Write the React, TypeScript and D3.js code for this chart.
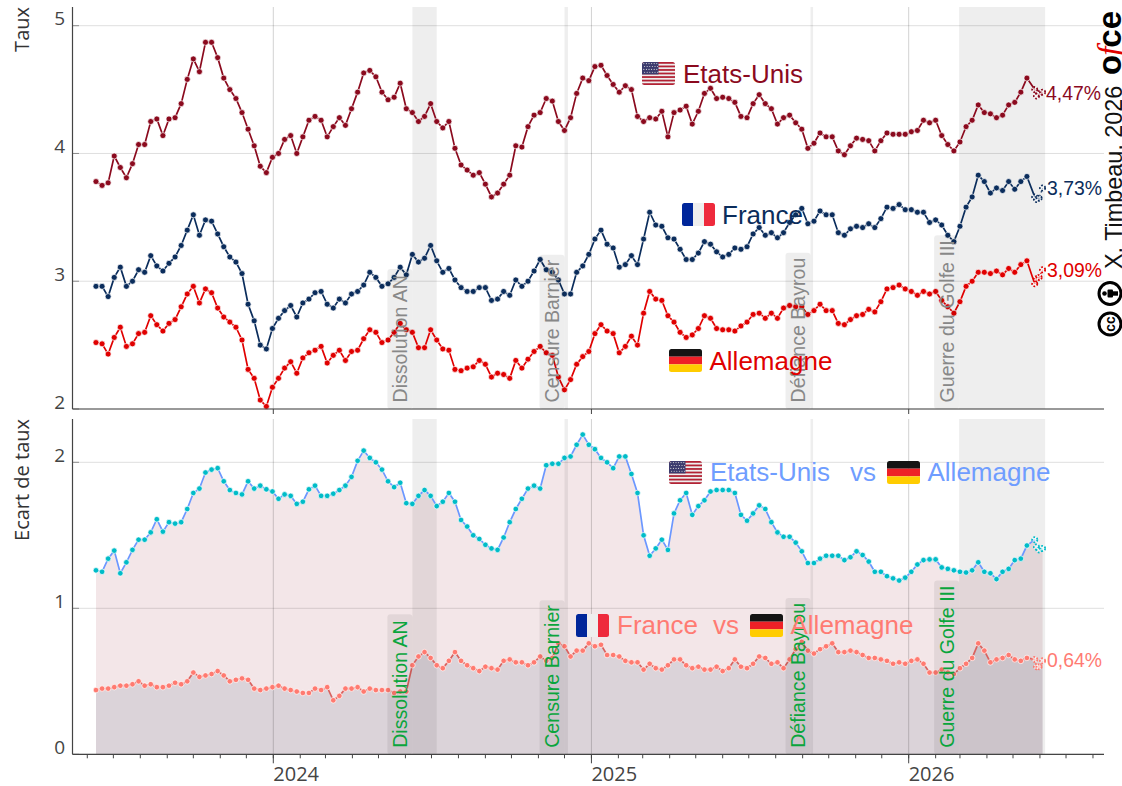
import * as d3 from 'd3';

// weekly yields, last 4 values are the provisional daily points (dashed tail)
const usRates = [
  3.78, 3.75, 3.77, 3.98, 3.89, 3.81, 3.92, 4.07, 4.07, 4.25, 4.27, 4.14, 4.27, 4.28, 4.39, 4.58, 4.74, 4.64, 4.87, 4.87,
  4.75, 4.59, 4.5, 4.43, 4.32, 4.19, 4.06, 3.9, 3.85, 3.97, 4.0, 4.11, 4.14, 4.0, 4.13, 4.26, 4.29, 4.26, 4.13, 4.21,
  4.28, 4.22, 4.35, 4.48, 4.63, 4.65, 4.6, 4.48, 4.42, 4.44, 4.55, 4.35, 4.32, 4.25, 4.29, 4.39, 4.25, 4.2, 4.25, 4.04,
  3.91, 3.87, 3.83, 3.85, 3.76, 3.66, 3.69, 3.76, 3.83, 4.06, 4.05, 4.21, 4.3, 4.32, 4.43, 4.41, 4.25, 4.18, 4.28, 4.47,
  4.59, 4.57, 4.68, 4.69, 4.61, 4.54, 4.48, 4.53, 4.5, 4.29, 4.25, 4.28, 4.27, 4.33, 4.13, 4.32, 4.34, 4.37, 4.23, 4.33,
  4.47, 4.51, 4.43, 4.44, 4.43, 4.4, 4.29, 4.28, 4.39, 4.46, 4.39, 4.35, 4.23, 4.28, 4.3, 4.24, 4.19, 4.04, 4.08, 4.16,
  4.13, 4.13, 4.02, 3.99, 4.06, 4.12, 4.11, 4.1, 4.02, 4.1, 4.16, 4.15, 4.15, 4.15, 4.17, 4.18, 4.26, 4.24, 4.26, 4.14,
  4.07, 4.02, 4.09, 4.21, 4.26, 4.38, 4.32, 4.31, 4.28, 4.3, 4.38, 4.4, 4.48, 4.59, 4.5, 4.45, 4.47, 4.48,
];
const frRates = [
  2.96, 2.96, 2.88, 3.03, 3.11, 2.96, 3.0, 3.09, 3.07, 3.2, 3.12, 3.08, 3.14, 3.19, 3.28, 3.4, 3.52, 3.36, 3.48, 3.47,
  3.37, 3.27, 3.19, 3.15, 3.06, 2.82, 2.69, 2.5, 2.47, 2.63, 2.71, 2.77, 2.81, 2.72, 2.83, 2.86, 2.91, 2.92, 2.82, 2.79,
  2.86, 2.83, 2.9, 2.92, 2.97, 3.07, 3.03, 2.96, 2.98, 3.03, 3.11, 3.05, 3.21, 3.15, 3.18, 3.28, 3.16, 3.07, 3.1, 3.01,
  2.95, 2.92, 2.92, 2.95, 2.95, 2.85, 2.86, 2.92, 2.89, 3.01, 2.96, 3.0, 3.08, 3.17, 3.09, 3.07, 3.01, 2.9, 2.9, 3.07,
  3.12, 3.21, 3.33, 3.4, 3.29, 3.26, 3.11, 3.13, 3.2, 3.13, 3.33, 3.54, 3.44, 3.43, 3.34, 3.33, 3.25, 3.17, 3.17, 3.22,
  3.31, 3.29, 3.23, 3.19, 3.21, 3.26, 3.25, 3.27, 3.37, 3.42, 3.36, 3.38, 3.34, 3.38, 3.46, 3.52, 3.57, 3.45, 3.47, 3.55,
  3.52, 3.52, 3.38, 3.36, 3.41, 3.43, 3.42, 3.45, 3.42, 3.49, 3.58, 3.57, 3.6, 3.56, 3.56, 3.54, 3.54, 3.46, 3.48, 3.44,
  3.36, 3.31, 3.43, 3.58, 3.66, 3.83, 3.78, 3.69, 3.73, 3.71, 3.78, 3.72, 3.78, 3.82, 3.66, 3.64, 3.65, 3.73,
];
const deRates = [
  2.52, 2.51, 2.43, 2.56, 2.64, 2.49, 2.51, 2.59, 2.6, 2.73, 2.66, 2.61, 2.67, 2.7, 2.8, 2.9, 2.96, 2.83, 2.94, 2.91,
  2.79, 2.72, 2.68, 2.64, 2.54, 2.31, 2.24, 2.07, 2.02, 2.17, 2.24, 2.32, 2.37, 2.28, 2.4, 2.44, 2.46, 2.49, 2.36, 2.42,
  2.46, 2.38, 2.45, 2.46, 2.55, 2.62, 2.6, 2.52, 2.54, 2.6, 2.67, 2.62, 2.6, 2.48, 2.48, 2.62, 2.54, 2.47, 2.46, 2.31,
  2.3, 2.32, 2.33, 2.38, 2.35, 2.25, 2.28, 2.27, 2.24, 2.38, 2.32, 2.39, 2.45, 2.49, 2.44, 2.42, 2.25, 2.15, 2.23, 2.35,
  2.41, 2.45, 2.59, 2.66, 2.61, 2.59, 2.44, 2.49, 2.57, 2.5, 2.75, 2.92, 2.86, 2.85, 2.73, 2.68, 2.6, 2.56, 2.58, 2.63,
  2.73, 2.71, 2.63, 2.62, 2.62, 2.61, 2.65, 2.68, 2.74, 2.75, 2.71, 2.75, 2.71, 2.79, 2.81, 2.8, 2.8, 2.74, 2.77, 2.82,
  2.77, 2.77, 2.67, 2.66, 2.7, 2.73, 2.74, 2.78, 2.76, 2.84, 2.94, 2.95, 2.97, 2.94, 2.92, 2.89, 2.92, 2.9, 2.92, 2.85,
  2.8, 2.75, 2.84, 2.96, 3.0, 3.07, 3.07, 3.06, 3.08, 3.05, 3.1, 3.07, 3.13, 3.16, 2.98, 3.02, 3.03, 3.09,
];
const usSpread = [
  1.26, 1.25, 1.34, 1.395, 1.24, 1.315, 1.4, 1.47, 1.47, 1.52, 1.61, 1.525, 1.59, 1.58, 1.59, 1.68, 1.79, 1.82, 1.93, 1.95,
  1.96, 1.87, 1.81, 1.79, 1.78, 1.87, 1.82, 1.84, 1.815, 1.8, 1.75, 1.78, 1.77, 1.715, 1.73, 1.815, 1.84, 1.77, 1.77, 1.785,
  1.81, 1.84, 1.9, 2.01, 2.08, 2.03, 2.0, 1.95, 1.87, 1.83, 1.86, 1.72, 1.715, 1.77, 1.81, 1.77, 1.7, 1.73, 1.79, 1.73,
  1.605, 1.56, 1.5, 1.475, 1.435, 1.41, 1.4, 1.485, 1.59, 1.68, 1.75, 1.82, 1.84, 1.82, 1.98, 1.99, 1.99, 2.03, 2.04, 2.12,
  2.19, 2.12, 2.09, 2.03, 2.0, 1.96, 2.04, 2.04, 1.92, 1.79, 1.5, 1.36, 1.41, 1.47, 1.4, 1.65, 1.74, 1.79, 1.64, 1.7,
  1.74, 1.8, 1.81, 1.81, 1.81, 1.79, 1.64, 1.6, 1.65, 1.705, 1.68, 1.59, 1.52, 1.49, 1.49, 1.45, 1.39, 1.31, 1.31, 1.34,
  1.36, 1.36, 1.36, 1.33, 1.35, 1.39, 1.365, 1.32, 1.25, 1.25, 1.22, 1.205, 1.19, 1.21, 1.25, 1.3, 1.33, 1.335, 1.335, 1.28,
  1.27, 1.26, 1.25, 1.245, 1.26, 1.315, 1.25, 1.24, 1.2, 1.25, 1.27, 1.33, 1.34, 1.43, 1.47, 1.42, 1.4, 1.41,
];
const frSpread = [
  0.44, 0.45, 0.45, 0.46, 0.47, 0.47, 0.48, 0.5, 0.47, 0.48, 0.46, 0.46, 0.47, 0.49, 0.48, 0.5, 0.56, 0.53, 0.54, 0.55,
  0.57, 0.54, 0.5, 0.51, 0.52, 0.51, 0.45, 0.44, 0.45, 0.46, 0.47, 0.45, 0.44, 0.43, 0.42, 0.42, 0.45, 0.44, 0.46, 0.37,
  0.4, 0.45, 0.45, 0.46, 0.43, 0.45, 0.44, 0.44, 0.44, 0.42, 0.43, 0.43, 0.61, 0.67, 0.7, 0.66, 0.61, 0.59, 0.64, 0.7,
  0.64, 0.61, 0.59, 0.57, 0.6, 0.59, 0.58, 0.64, 0.65, 0.63, 0.63, 0.61, 0.63, 0.67, 0.64, 0.66, 0.76, 0.74, 0.67, 0.71,
  0.71, 0.76, 0.74, 0.75, 0.68, 0.68, 0.67, 0.64, 0.63, 0.63, 0.58, 0.62, 0.59, 0.58, 0.61, 0.65, 0.65, 0.61, 0.59, 0.6,
  0.58, 0.58, 0.6, 0.57, 0.59, 0.65, 0.6, 0.59, 0.62, 0.67, 0.66, 0.62, 0.63, 0.59, 0.65, 0.72, 0.77, 0.71, 0.69, 0.72,
  0.74, 0.76, 0.7, 0.7, 0.71, 0.7, 0.68, 0.66, 0.66, 0.65, 0.64, 0.62, 0.63, 0.62, 0.64, 0.65, 0.62, 0.56, 0.56, 0.58,
  0.56, 0.55, 0.59, 0.62, 0.66, 0.76, 0.71, 0.63, 0.65, 0.66, 0.68, 0.65, 0.64, 0.66, 0.65, 0.6, 0.6, 0.64,
];

const firstWeek = new Date(Date.UTC(2023, 5, 11));
const solidCount = 154;
const tailDates = ['2026-05-26', '2026-05-28', '2026-05-31', '2026-06-04'].map((d) => new Date(d));
const dates = [...d3.range(solidCount).map((i) => d3.utcDay.offset(firstWeek, i * 7)), ...tailDates];

const rateTicks = [2, 3, 4, 5];
const spreadTicks = [0, 1, 2];

const events = [
  { label: 'Dissolution AN', start: '2024-06-09', end: '2024-07-07' },
  { label: 'Censure Barnier', start: '2024-12-01', end: '2024-12-05' },
  { label: 'Défiance Bayrou', start: '2025-09-10', end: '2025-09-13' },
  { label: 'Guerre du Golfe III', start: '2026-02-28', end: '2026-06-07' },
];

const width = 1122;
const height = 786;
const leftX = 72.5;
const rightX = 1104;
const topPanel = { top: 7, bottom: 409 };
const botPanel = { top: 419, bottom: 754.3 };
const sans = '"Liberation Sans", Arial, sans-serif';
const tickFont = '"Open Sans", sans-serif';

const colors = {
  us: '#8b0a1e',
  fr: '#0b2d5c',
  de: '#e00000',
  blueLine: '#6b97ff',
  blueDot: '#00bcc8',
  pinkLine: '#d9625f',
  pinkDot: '#ff7a70',
  pinkText: '#ff7b73',
  blueText: '#6f9dff',
};

const x = d3
  .scaleUtc()
  .domain([new Date(Date.UTC(2024, 0, 1)), new Date(Date.UTC(2026, 0, 1))])
  .range([273.3, 908.7]);
const yTop = d3.scaleLinear().domain([2, 5]).range([409, 25.7]);
const yBot = d3.scaleLinear().domain([0, 2]).range([754.3, 462.3]);

const months = d3.utcMonths(new Date(Date.UTC(2023, 5, 1)), new Date(Date.UTC(2026, 7, 2)));
const years = [2024, 2025, 2026].map((y) => new Date(Date.UTC(y, 0, 1)));

const labelFontSize = 19.6;
const measure = document.createElement('canvas').getContext('2d');
function textWidth(text: string) {
  if (!measure) return text.length * 9;
  measure.font = `${labelFontSize}px "Liberation Sans"`;
  return measure.measureText(text).width;
}

function Flag({ kind, px, py }: { kind: string; px: number; py: number }) {
  const w = 33;
  const h = 23;
  const id = `clip-${kind}-${Math.round(px)}-${Math.round(py)}`;
  return (
    <g transform={`translate(${px},${py})`}>
      <clipPath id={id}>
        <rect width={w} height={h} rx={2.5} />
      </clipPath>
      <g clipPath={`url(#${id})`}>
        {kind === 'us' && (
          <>
            <rect width={w} height={h} fill="#eee" />
            {d3.range(0, 13, 2).map((i) => (
              <rect key={i} y={(i * h) / 13} width={w} height={h / 13} fill="#b22234" />
            ))}
            <rect width={w * 0.5} height={(h * 7) / 13} fill="#3c3b6e" />
            {d3.range(4).map((r) =>
              d3.range(6).map((c) => (
                <circle key={`${r}-${c}`} cx={1.8 + c * 2.6 + (r % 2) * 0.8} cy={1.6 + r * 2.9} r={0.55} fill="#ddd" />
              ))
            )}
          </>
        )}
        {kind === 'fr' && (
          <>
            <rect width={w / 3} height={h} fill="#00269a" />
            <rect x={w / 3} width={w / 3} height={h} fill="#eeeeee" />
            <rect x={(2 * w) / 3} width={w / 3} height={h} fill="#ee2a3c" />
          </>
        )}
        {kind === 'de' && (
          <>
            <rect width={w} height={h / 3} fill="#141414" />
            <rect y={h / 3} width={w} height={h / 3} fill="#ee2027" />
            <rect y={(2 * h) / 3} width={w} height={h / 3} fill="#ffcc00" />
          </>
        )}
      </g>
    </g>
  );
}

function Series({
  values,
  y,
  line,
  dot,
  r,
}: {
  values: number[];
  y: d3.ScaleLinear<number, number>;
  line: string;
  dot: string;
  r: number;
}) {
  const path = d3
    .line<number>()
    .x((_, i) => x(dates[i]))
    .y((d) => y(d));
  const solid = values.slice(0, solidCount + 1);
  const tail = values.slice(solidCount);
  const tailPath = d3
    .line<number>()
    .x((_, i) => x(dates[solidCount + i]))
    .y((d) => y(d));
  return (
    <g>
      <path d={path(solid) ?? ''} fill="none" stroke={line} strokeWidth={1.7} />
      <path d={tailPath(tail) ?? ''} fill="none" stroke={line} strokeWidth={1.2} strokeDasharray="1.5 2.5" />
      {values.map((v, i) =>
        i < solidCount ? (
          <circle key={i} cx={x(dates[i])} cy={y(v)} r={r} fill={dot} stroke="#fff" strokeWidth={0.7} />
        ) : (
          <circle key={i} cx={x(dates[i])} cy={y(v)} r={2.6} fill="#fff" fillOpacity={0.6} stroke={dot} strokeWidth={1.8} strokeDasharray="1.8 1.7" />
        )
      )}
    </g>
  );
}

function Panel({ panel, ticks, y }: { panel: { top: number; bottom: number }; ticks: number[]; y: d3.ScaleLinear<number, number> }) {
  return (
    <g>
      {ticks.map((t) => (
        <g key={t}>
          <line x1={leftX} x2={rightX} y1={y(t)} y2={y(t)} stroke="#000" strokeOpacity={0.13} strokeWidth={1} />
          <line x1={leftX} x2={leftX + 6.5} y1={y(t)} y2={y(t)} stroke="#666" strokeOpacity={0.7} strokeWidth={1} />
          <text x={65} y={y(t) - 0.5} textAnchor="end" fontFamily={tickFont} fontSize={19} fill="#444">
            {t}
          </text>
        </g>
      ))}
      {years.map((d) => (
        <line key={+d} x1={x(d)} x2={x(d)} y1={panel.top} y2={panel.bottom} stroke="#000" strokeOpacity={0.18} strokeWidth={1} />
      ))}
    </g>
  );
}

function Bands({ panel }: { panel: { top: number; bottom: number } }) {
  return (
    <g>
      {events.map((e) => (
        <rect
          key={e.label}
          x={x(new Date(e.start))}
          width={x(new Date(e.end)) - x(new Date(e.start))}
          y={panel.top}
          height={panel.bottom - panel.top}
          fill="#000"
          fillOpacity={0.065}
        />
      ))}
    </g>
  );
}

function EventLabels({ panel, color }: { panel: { top: number; bottom: number }; color: string }) {
  return (
    <g>
      {events.map((e) => {
        const bx = x(new Date(e.start));
        const tw = textWidth(e.label);
        const h = tw + 11.5;
        return (
          <g key={e.label}>
            <rect x={bx - 25} y={panel.bottom - h} width={25} height={h} rx={3} fill="#000" fillOpacity={0.065} />
            <text
              transform={`translate(${bx - 5.5},${panel.bottom - 6.5}) rotate(-90)`}
              fontFamily={sans}
              fontSize={labelFontSize}
              fill={color}
            >
              {e.label}
            </text>
          </g>
        );
      })}
    </g>
  );
}

export default function App() {
  const area = d3
    .area<number>()
    .x((_, i) => x(dates[i]))
    .y0(yBot(0))
    .y1((d) => yBot(d));

  return (
    <svg width={width} height={height} style={{ position: 'absolute', left: 0, top: 0, background: '#fff' }}>
      {/* top panel */}
      <Panel panel={topPanel} ticks={rateTicks} y={yTop} />
      <Bands panel={topPanel} />
      <Series values={usRates} y={yTop} line={colors.us} dot={colors.us} r={3} />
      <Series values={frRates} y={yTop} line={colors.fr} dot={colors.fr} r={3} />
      <Series values={deRates} y={yTop} line={colors.de} dot={colors.de} r={3} />
      <EventLabels panel={topPanel} color="#888" />

      <line x1={leftX} x2={leftX} y1={topPanel.top} y2={topPanel.bottom} stroke="#444" strokeWidth={1.2} />
      <line x1={leftX} x2={rightX} y1={topPanel.bottom} y2={topPanel.bottom} stroke="#444" strokeWidth={1.2} />
      {years.map((d) => (
        <line key={+d} x1={x(d)} x2={x(d)} y1={topPanel.bottom} y2={topPanel.bottom + 5} stroke="#444" strokeWidth={1} />
      ))}

      <g fontFamily={sans} fontSize={26}>
        <Flag kind="us" px={642} py={62} />
        <text x={683} y={83} fill={colors.us}>Etats-Unis</text>
        <Flag kind="fr" px={682} py={203} />
        <text x={722} y={224} fill={colors.fr}>France</text>
        <Flag kind="de" px={669} py={349} />
        <text x={709.5} y={370} fill={colors.de}>Allemagne</text>
      </g>

      <g fontFamily={sans} fontSize={19.4}>
        <text x={1046} y={100} fill={colors.us}>4,47%</text>
        <text x={1047} y={195} fill={colors.fr}>3,73%</text>
        <text x={1047} y={277} fill={colors.de}>3,09%</text>
        <text x={1047} y={667} fill={colors.pinkText}>0,64%</text>
      </g>

      {/* bottom panel */}
      <path d={area(usSpread) ?? ''} fill={colors.us} fillOpacity={0.1} />
      <path d={area(frSpread) ?? ''} fill={colors.fr} fillOpacity={0.1} />
      <Panel panel={botPanel} ticks={spreadTicks} y={yBot} />
      <Bands panel={botPanel} />
      <Series values={usSpread} y={yBot} line={colors.blueLine} dot={colors.blueDot} r={2.8} />
      <Series values={frSpread} y={yBot} line={colors.pinkLine} dot={colors.pinkDot} r={2.8} />
      <EventLabels panel={botPanel} color="#0aa53c" />

      <line x1={leftX} x2={leftX} y1={botPanel.top} y2={botPanel.bottom} stroke="#444" strokeWidth={1.2} />
      <line x1={leftX} x2={rightX} y1={botPanel.bottom} y2={botPanel.bottom} stroke="#444" strokeWidth={1.2} />
      {months.map((d) => (
        <line key={+d} x1={x(d)} x2={x(d)} y1={botPanel.bottom} y2={botPanel.bottom + 4} stroke="#444" strokeWidth={1} />
      ))}
      {years.map((d) => (
        <g key={+d}>
          <line x1={x(d)} x2={x(d)} y1={botPanel.bottom} y2={botPanel.bottom + 9} stroke="#444" strokeWidth={1} />
          <text x={x(d)} y={781} fontFamily={tickFont} fontSize={20} fill="#444">
            {d.getUTCFullYear()}
          </text>
        </g>
      ))}

      <g fontFamily={sans} fontSize={26}>
        <Flag kind="us" px={669} py={461} />
        <text x={710} y={481} fill={colors.blueText}>Etats-Unis</text>
        <text x={850} y={481} fill={colors.blueText}>vs</text>
        <Flag kind="de" px={887} py={461} />
        <text x={927.5} y={481} fill={colors.blueText}>Allemagne</text>
        <Flag kind="fr" px={576} py={614} />
        <text x={617} y={634} fill={colors.pinkText}>France</text>
        <text x={713} y={634} fill={colors.pinkText}>vs</text>
        <Flag kind="de" px={750} py={614} />
        <text x={790.5} y={634} fill={colors.pinkText}>Allemagne</text>
      </g>

      {/* axis titles */}
      <g fontFamily={tickFont} fontSize={20} fill="#333" textAnchor="end">
        <text transform="translate(28.5,7) rotate(-90)">Taux</text>
        <text transform="translate(28.5,419) rotate(-90)">Ecart de taux</text>
      </g>

      {/* credit */}
      <text transform="translate(1121.5,269) rotate(-90)" fontFamily={sans} fontSize={23.4} fill="#111">
        X. Timbeau, 2026
      </text>
      <text transform="translate(1121,75) rotate(-90)" fontFamily={sans} fontSize={33} fontWeight="bold" fill="#000">
        o
        <tspan fontFamily='"Liberation Serif", serif' fontStyle="italic" fontWeight="normal" fill="#e00000" dx={-1}>
          f
        </tspan>
        <tspan dx={-1}>ce</tspan>
      </text>
      <g stroke="#000" fill="none" strokeWidth={3}>
        <circle cx={1110} cy={324} r={11} />
        <circle cx={1110} cy={293.5} r={11} />
      </g>
      <text
        transform="translate(1115,324) rotate(-90)"
        textAnchor="middle"
        fontFamily={sans}
        fontWeight="bold"
        fontSize={14}
        fill="#000"
      >
        cc
      </text>
      <g fill="#000">
        <circle cx={1104.5} cy={293.5} r={2.3} />
        <rect x={1107.5} y={289.5} width={5.5} height={8} rx={1} />
        <rect x={1113} y={291.3} width={5} height={4.4} />
      </g>
    </svg>
  );
}
